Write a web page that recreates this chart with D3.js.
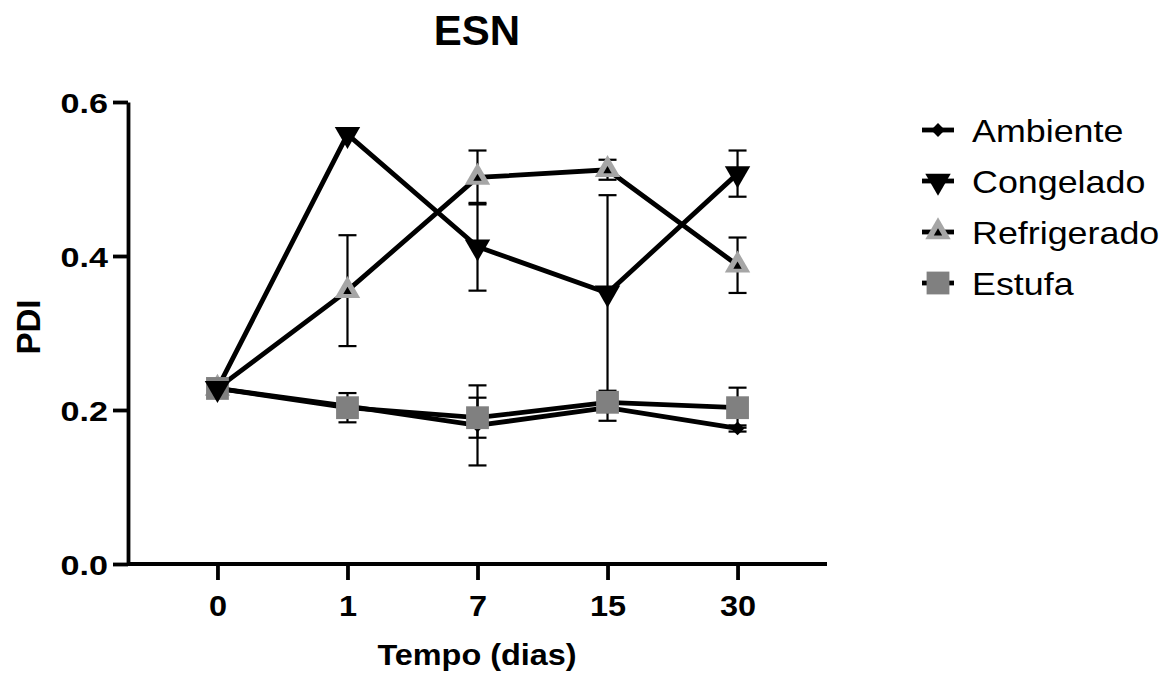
<!DOCTYPE html>
<html>
<head>
<meta charset="utf-8">
<script src="https://cdn.jsdelivr.net/npm/d3@7/dist/d3.min.js"></script>
<style>
  body { margin: 0; background: #fff; }
  svg { display: block; font-family: "Liberation Sans", Arial, sans-serif; }
</style>
</head>
<body>
<svg id="chart" width="1173" height="677"></svg>
<script>
// Values
const days = ["0", "1", "7", "15", "30"]
const yTicks = [0, 0.2, 0.4, 0.6]

const ambiente = [0.228, 0.205, 0.180, 0.203, 0.176]
const ambienteSd = [0, 0.005, 0.052, 0.017, 0.004]
const congelado = [0.228, 0.558, 0.412, 0.352, 0.507]
const congeladoSd = [0, 0, 0.057, 0.127, 0.030]
const refrigerado = [0.228, 0.355, 0.502, 0.512, 0.388]
const refrigeradoSd = [0, 0.072, 0.035, 0.013, 0.036]
const estufa = [0.228, 0.203, 0.190, 0.210, 0.203]
const estufaSd = [0, 0.019, 0.026, 0.012, 0.026]

const seriesNames = ["Ambiente", "Congelado", "Refrigerado", "Estufa"]

// drawing order (back to front)
const series = [
  {name: "Refrigerado", values: refrigerado, sd: refrigeradoSd, type: "up", fill: "#a6a6a6"},
  {name: "Ambiente", values: ambiente, sd: ambienteSd, type: "diamond", fill: "#000"},
  {name: "Estufa", values: estufa, sd: estufaSd, type: "square", fill: "#808080"},
  {name: "Congelado", values: congelado, sd: congeladoSd, type: "down", fill: "#000"}
]

const svg = d3.select("#chart")

const x = d3.scalePoint().domain(days).range([128, 827]).padding(0.688)
const y = d3.scaleLinear().domain([0, 0.6]).range([564, 102])

// draws one marker into a group placed at the point
function marker(g, type, fill) {
  if (type === "up") {
    g.append("path").attr("d", d3.symbol(d3.symbolTriangle, 280)()).attr("fill", fill)
    g.append("path").attr("d", d3.symbol(d3.symbolTriangle, 30)()).attr("fill", "#000")
      .attr("transform", "translate(0,1)")
  } else if (type === "down") {
    g.append("path").attr("d", d3.symbol(d3.symbolTriangle, 280)()).attr("fill", fill)
      .attr("transform", "rotate(180)")
  } else if (type === "square") {
    g.append("path").attr("d", d3.symbol(d3.symbolSquare, 520)()).attr("fill", fill)
  } else {
    g.append("path").attr("d", d3.symbol(d3.symbolSquare, 95)()).attr("fill", fill)
      .attr("transform", "rotate(45)")
  }
}

// Axes
const xAxis = svg.append("g")
    .attr("transform", `translate(0,${y(0)})`)
    .call(d3.axisBottom(x).tickSize(16).tickPadding(15).tickSizeOuter(0))
xAxis.select(".domain").attr("d", `M128,0H827`)

const yAxis = svg.append("g")
    .attr("transform", `translate(128,0)`)
    .call(d3.axisLeft(y).tickValues(yTicks).tickFormat(d3.format(".1f")).tickSize(15).tickSizeOuter(0))

svg.selectAll(".domain, .tick line").attr("stroke", "#000").attr("stroke-width", 3.8)
svg.selectAll(".tick text").attr("fill", "#000").attr("font-weight", "bold")
    .attr("font-family", "'Liberation Sans', Arial, sans-serif")

xAxis.selectAll(".tick text").attr("font-size", 29)
    .attr("transform", "scale(1.12,1)")
yAxis.selectAll(".tick text").attr("font-size", 28)
    .attr("x", 0).attr("dy", "0.36em")
    .attr("transform", "translate(-20,0) scale(1.22,1)")

// Error bars
series.forEach(s => {
  const g = svg.append("g").attr("stroke", "#000").attr("stroke-width", 2.2)
  s.values.forEach((v, i) => {
    if (!s.sd[i]) return
    const cx = x(days[i])
    const y1 = y(v + s.sd[i])
    const y2 = y(v - s.sd[i])
    g.append("line").attr("x1", cx).attr("x2", cx).attr("y1", y1).attr("y2", y2)
    g.append("line").attr("x1", cx - 9).attr("x2", cx + 9).attr("y1", y1).attr("y2", y1)
    g.append("line").attr("x1", cx - 9).attr("x2", cx + 9).attr("y1", y2).attr("y2", y2)
  })
})

// Lines
const line = d3.line().x((d, i) => x(days[i])).y(d => y(d))
series.forEach(s => {
  svg.append("path")
      .attr("d", line(s.values))
      .attr("fill", "none")
      .attr("stroke", "#000")
      .attr("stroke-width", 4.8)
      .attr("stroke-linejoin", "miter")
})

// Markers
series.forEach(s => {
  s.values.forEach((v, i) => {
    const g = svg.append("g").attr("transform", `translate(${x(days[i])},${y(v)})`)
    marker(g, s.type, s.fill)
  })
})

// Titles
svg.append("text")
    .attr("x", 477).attr("y", 45)
    .attr("text-anchor", "middle")
    .attr("font-size", 42).attr("font-weight", "bold")
    .text("ESN")

svg.append("text")
    .attr("transform", "translate(477,665) scale(1.08,1)")
    .attr("text-anchor", "middle")
    .attr("font-size", 30).attr("font-weight", "bold")
    .text("Tempo (dias)")

svg.append("text")
    .attr("transform", "translate(40,327) rotate(-90)")
    .attr("text-anchor", "middle")
    .attr("font-size", 33).attr("font-weight", "bold")
    .text("PDI")

// Legend
const legend = svg.append("g")
seriesNames.forEach((name, i) => {
  const s = series.find(d => d.name === name)
  const cy = 130 + i * 51
  legend.append("line")
      .attr("x1", 922).attr("x2", 954).attr("y1", cy).attr("y2", cy)
      .attr("stroke", "#000").attr("stroke-width", 4.8)
  const g = legend.append("g").attr("transform", `translate(938,${cy})`)
  marker(g, s.type, s.fill)
  legend.append("text")
      .attr("transform", `translate(972,${cy + 11.5}) scale(1.12,1)`)
      .attr("font-size", 32)
      .text(name)
})
</script>
</body>
</html>
